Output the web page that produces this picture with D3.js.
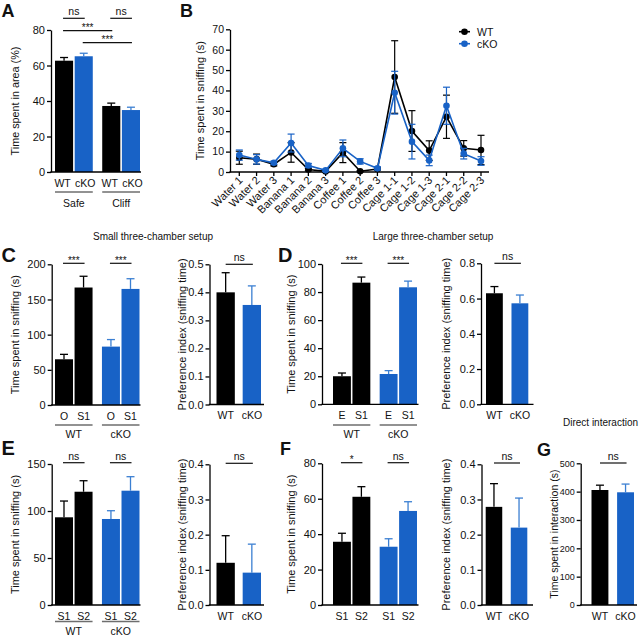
<!DOCTYPE html>
<html><head><meta charset="utf-8">
<script src="https://cdn.jsdelivr.net/npm/d3@7"></script>
<style>body{margin:0;background:#fff}svg{display:block;font-family:"Liberation Sans",Arial,sans-serif}</style>
</head><body>
<script>
// ---------------- DATA ----------------
const genotypes = ["WT", "cKO"];
// A
const aAreas = ["Safe", "Cliff"];
const aWT = [62.7, 37.2], aWTErr = [1.8, 1.6];
const aCKO = [65.2, 34.9], aCKOErr = [1.7, 1.6];
const aTicks = [0, 20, 40, 60, 80];
// B
const bCategories = ["Water 1","Water 2","Water 3","Banana 1","Banana 2","Banana 3","Coffee 1","Coffee 2","Coffee 3","Cage 1-1","Cage 1-2","Cage 1-3","Cage 2-1","Cage 2-2","Cage 2-3"];
const bWT    = [7.0, 6.3, 3.8, 9.6, 1.2, 0.3, 9.5, 0.4, 1.5, 46.6, 20.1, 10.5, 27.1, 11.6, 10.8];
const bWTErr = [3.2, 2.5, 0.8, 4.8, 0.6, 0.3, 4.9, 0.3, 0.5, 17.8, 10.0, 4.8, 10.6, 3.8, 7.2];
const bCKO   = [8.3, 6.2, 4.5, 14.2, 3.2, 0.8, 11.6, 5.2, 1.8, 38.9, 14.9, 5.7, 32.5, 9.0, 5.4];
const bCKOErr= [2.5, 2.3, 0.8, 4.4, 1.0, 0.5, 4.1, 1.3, 0.8, 10.5, 8.5, 2.6, 9.1, 2.6, 2.1];
const bTicks = [0, 10, 20, 30, 40, 50, 60, 70];
// C (small three-chamber)
const cStimuli = ["O", "S1"];
const cWT = [65, 167], cWTErr = [7, 16];
const cCKO = [83, 165], cCKOErr = [10, 14.5];
const cTicks = [0, 50, 100, 150, 200];
const cPref = [0.40, 0.355], cPrefErr = [0.07, 0.068];
const cPrefTicks = [0, 0.1, 0.2, 0.3, 0.4, 0.5];
// D (large three-chamber)
const dStimuli = ["E", "S1"];
const dWT = [20, 86.7], dWTErr = [2.3, 4];
const dCKO = [21.6, 83.4], dCKOErr = [2.4, 4.4];
const dTicks = [0, 20, 40, 60, 80, 100];
const dPref = [0.63, 0.573], dPrefErr = [0.038, 0.047];
const dPrefTicks = [0, 0.2, 0.4, 0.6, 0.8];
// E
const eStimuli = ["S1", "S2"];
const eWT = [93.3, 120.5], eWTErr = [17.3, 11.7];
const eCKO = [91.5, 121.6], eCKOErr = [8.8, 14.9];
const eTicks = [0, 50, 100, 150];
const ePref = [0.12, 0.092], ePrefErr = [0.077, 0.081];
const ePrefTicks = [0, 0.1, 0.2, 0.3, 0.4];
// F
const fStimuli = ["S1", "S2"];
const fWT = [35.7, 61.1], fWTErr = [4.8, 5.7];
const fCKO = [32.9, 53.1], fCKOErr = [4.5, 5.2];
const fTicks = [0, 20, 40, 60, 80];
const fPref = [0.279, 0.220], fPrefErr = [0.066, 0.084];
const fPrefTicks = [0, 0.1, 0.2, 0.3, 0.4];
// G
const gValues = [405.8, 397.7], gErr = [17, 29];
const gTicks = [0, 100, 200, 300, 400, 500];
// significance labels
const aSig = ["ns", "ns", "***", "***"];
const cSig = ["***", "***"], dSig = ["***", "***"];
const eSig = ["ns", "ns"], fSig = ["*", "ns"];
const prefSig = ["ns"];

// ---------------- STYLE ----------------
const BLACK = "#000", BLUE = "#1862c6", BLUE_ERR = "#3b7fd2", GREY = "#6e6e6e";
const colorOf = g => g === "WT" ? BLACK : BLUE;
const errColorOf = g => g === "WT" ? BLACK : BLUE_ERR;
const FONT = 11;
const XFONT = 10.5;

const svg = d3.select("body").append("svg").attr("width", 640).attr("height", 638);
svg.append("rect").attr("width", 640).attr("height", 638).attr("fill", "#fff");

function yAxis(scale, x, ticks, fmt, fs) {
  const g = svg.append("g").attr("transform", `translate(${x},0)`)
    .call(d3.axisLeft(scale).tickValues(ticks).tickFormat(fmt).tickSize(4).tickPadding(2).tickSizeOuter(0));
  g.select(".domain").attr("stroke", "#000").attr("stroke-width", 1.3);
  g.selectAll(".tick line").attr("stroke", "#000").attr("stroke-width", 1.3);
  g.selectAll(".tick text").style("font-size", (fs || FONT) + "px").attr("fill", "#111")
    .style("font-family", "Liberation Sans, Arial, sans-serif");
  return g;
}
function xLine(x0, x1, y) {
  svg.append("line").attr("x1", x0 - 0.65).attr("x2", x1).attr("y1", y).attr("y2", y)
    .attr("stroke", "#000").attr("stroke-width", 1.3);
}
function yTitle(text, x, yc, fs) {
  svg.append("text").attr("transform", `translate(${x},${yc}) rotate(-90)`)
    .attr("text-anchor", "middle").style("font-size", (fs || 11) + "px").attr("fill", "#111").text(text);
}
function label(text, x, y, fs, anchor, weight) {
  svg.append("text").attr("x", x).attr("y", y).attr("text-anchor", anchor || "middle")
    .style("font-size", fs + "px").style("font-weight", weight || "normal").attr("fill", "#111").text(text);
}
function errBar(cx, y, yv, yTop, color, cap) {
  svg.append("line").attr("x1", cx).attr("x2", cx).attr("y1", yv).attr("y2", yTop)
    .attr("stroke", color).attr("stroke-width", 1.3);
  svg.append("line").attr("x1", cx - cap / 2).attr("x2", cx + cap / 2).attr("y1", yTop).attr("y2", yTop)
    .attr("stroke", color).attr("stroke-width", 1.3);
}
function sigBar(x0, x1, y, text) {
  svg.append("line").attr("x1", x0).attr("x2", x1).attr("y1", y).attr("y2", y)
    .attr("stroke", "#111").attr("stroke-width", 1.2);
  const isStar = text.indexOf("*") >= 0;
  label(text, (x0 + x1) / 2, isStar ? y + 0.5 : y - 3, isStar ? 10 : 10.5);
}

// Grouped bar panel (two outer groups x two inner bars)
function groupedPanel(o) {
  const y = d3.scaleLinear().domain([0, d3.max(o.ticks)]).range([o.y0, o.y1]);
  const outer = d3.scaleBand().domain(o.outer).range(o.xr).paddingInner(0.2);
  const inner = d3.scaleBand().domain(o.inner).range([0, outer.bandwidth()]).paddingInner(0.08);
  const bars = [];
  o.outer.forEach((og, i) => o.inner.forEach((ig, j) => {
    const geno = o.colorBy === "inner" ? ig : og;
    const vals = o.values(og, ig);
    bars.push({ og, ig, geno, v: vals[0], e: vals[1], x: outer(og) + inner(ig), w: inner.bandwidth() });
  }));
  svg.append("g").selectAll("rect").data(bars).join("rect")
    .attr("x", d => d.x).attr("width", d => d.w)
    .attr("y", d => y(d.v)).attr("height", d => y(0) - y(d.v))
    .attr("fill", d => colorOf(d.geno));
  bars.forEach(d => errBar(d.x + d.w / 2, y, y(d.v), y(d.v + d.e), errColorOf(d.geno), 8));
  yAxis(y, o.ax, o.ticks, o.fmt || d3.format("d"));
  xLine(o.ax, o.xEnd, o.y0);
  bars.forEach(d => label(d.ig, d.x + d.w / 2 + (o.labelShift ? o.labelShift(d) : 0), o.y0 + 14.5, XFONT));
  if (o.groupLine) {
    o.outer.forEach(og => {
      svg.append("line").attr("x1", outer(og)).attr("x2", outer(og) + outer.bandwidth())
        .attr("y1", o.groupLine).attr("y2", o.groupLine).attr("stroke", GREY).attr("stroke-width", 1.6);
      label(og, outer(og) + outer.bandwidth() / 2, o.groupLabelY, XFONT);
    });
  }
  const cx = (og, ig) => outer(og) + inner(ig) + inner.bandwidth() / 2;
  o.sigs.forEach(s => sigBar(cx(s.a[0], s.a[1]) - 1, cx(s.b[0], s.b[1]) + 1, s.y, s.text));
  yTitle(o.title, o.titleX, (o.y0 + o.y1) / 2, o.titleSize);
}

// Two-bar panel (WT vs cKO)
function pairPanel(o) {
  const y = d3.scaleLinear().domain([0, d3.max(o.ticks)]).range([o.y0, o.y1]);
  const x = d3.scaleBand().domain(genotypes).range(o.xr).paddingInner(o.pad);
  const bars = genotypes.map((g, i) => ({ g, v: o.values[i], e: o.errs[i] }));
  svg.append("g").selectAll("rect").data(bars).join("rect")
    .attr("x", d => x(d.g)).attr("width", x.bandwidth())
    .attr("y", d => y(d.v)).attr("height", d => y(0) - y(d.v))
    .attr("fill", d => colorOf(d.g));
  bars.forEach(d => errBar(x(d.g) + x.bandwidth() / 2, y, y(d.v), y(d.v + d.e), errColorOf(d.g), 8));
  yAxis(y, o.ax, o.ticks, o.fmt, o.tickFont);
  xLine(o.ax, o.xEnd, o.y0);
  genotypes.forEach(g => label(g, x(g) + x.bandwidth() / 2, o.y0 + 14.5, XFONT));
  sigBar(x("WT") + x.bandwidth() / 2, x("cKO") + x.bandwidth() / 2 + 1, o.sigY, o.sig);
  yTitle(o.title, o.titleX, (o.y0 + o.y1) / 2, o.titleSize);
}

// ---------------- PANEL A ----------------
groupedPanel({
  outer: aAreas, inner: genotypes, colorBy: "inner",
  values: (og, ig) => { const i = aAreas.indexOf(og); return ig === "WT" ? [aWT[i], aWTErr[i]] : [aCKO[i], aCKOErr[i]]; },
  ticks: aTicks, y0: 172, y1: 30, xr: [55, 140], ax: 51, xEnd: 141,
  labelShift: d => d.ig === "WT" ? -1.5 : 1.5,
  groupLine: 192, groupLabelY: 207,
  sigs: [
    { a: ["Safe", "WT"], b: ["Safe", "cKO"], y: 18.3, text: aSig[0] },
    { a: ["Cliff", "WT"], b: ["Cliff", "cKO"], y: 18.3, text: aSig[1] },
    { a: ["Safe", "WT"], b: ["Cliff", "WT"], y: 30.7, text: aSig[2] },
    { a: ["Safe", "cKO"], b: ["Cliff", "cKO"], y: 42.7, text: aSig[3] }
  ],
  title: "Time spent in area (%)", titleX: 19, titleSize: 10.8
});

// ---------------- PANEL B ----------------
(function () {
  const x = d3.scalePoint().domain(bCategories).range([239.3, 481]);
  const y = d3.scaleLinear().domain([0, 70]).range([172, 29.3]);
  yAxis(y, 230, bTicks, d3.format("d"), 10.5);
  xLine(230, 489, 172);
  bCategories.forEach(c => {
    svg.append("line").attr("x1", x(c)).attr("x2", x(c)).attr("y1", 172).attr("y2", 176)
      .attr("stroke", "#000").attr("stroke-width", 1.3);
    svg.append("text").attr("transform", `translate(${x(c) + 4},${181}) rotate(-45)`)
      .attr("text-anchor", "end").style("font-size", "11px").attr("fill", "#111").text(c);
  });
  const series = [
    { g: "WT", v: bWT, e: bWTErr },
    { g: "cKO", v: bCKO, e: bCKOErr }
  ];
  series.forEach(s => {
    const col = colorOf(s.g);
    s.v.forEach((v, i) => {
      const cx = x(bCategories[i]);
      svg.append("line").attr("x1", cx).attr("x2", cx).attr("y1", y(v - s.e[i])).attr("y2", y(v + s.e[i]))
        .attr("stroke", col).attr("stroke-width", 1.2);
      [v - s.e[i], v + s.e[i]].forEach(t => svg.append("line").attr("x1", cx - 3.5).attr("x2", cx + 3.5)
        .attr("y1", y(t)).attr("y2", y(t)).attr("stroke", col).attr("stroke-width", 1.2));
    });
    svg.append("path").datum(s.v)
      .attr("d", d3.line().x((d, i) => x(bCategories[i])).y(d => y(d)))
      .attr("fill", "none").attr("stroke", col).attr("stroke-width", 1.6);
    svg.append("g").selectAll("circle").data(s.v).join("circle")
      .attr("cx", (d, i) => x(bCategories[i])).attr("cy", d => y(d)).attr("r", 3.3).attr("fill", col);
  });
  // legend
  genotypes.forEach((g, i) => {
    const ly = 31.7 + i * 12;
    svg.append("line").attr("x1", 459).attr("x2", 470).attr("y1", ly).attr("y2", ly)
      .attr("stroke", colorOf(g)).attr("stroke-width", 1.6);
    svg.append("circle").attr("cx", 464.5).attr("cy", ly).attr("r", 3.3).attr("fill", colorOf(g));
    label(g, 477, ly + 3.8, 10.5, "start");
  });
  yTitle("Time spent in sniffing (s)", 204, 100.7, 11);
})();

// ---------------- PANEL C ----------------
label("Small three-chamber setup", 153, 239.5, 10);
groupedPanel({
  outer: genotypes, inner: cStimuli, colorBy: "outer",
  values: (og, ig) => { const i = cStimuli.indexOf(ig); return og === "WT" ? [cWT[i], cWTErr[i]] : [cCKO[i], cCKOErr[i]]; },
  ticks: cTicks, y0: 405, y1: 264.3, xr: [55, 139.5], ax: 51.7, xEnd: 140.5,
  groupLine: 425, groupLabelY: 437.5,
  sigs: [
    { a: ["WT", "O"], b: ["WT", "S1"], y: 263.3, text: cSig[0] },
    { a: ["cKO", "O"], b: ["cKO", "S1"], y: 263.3, text: cSig[1] }
  ],
  title: "Time spent in sniffing (s)", titleX: 19
});
pairPanel({
  values: cPref, errs: cPrefErr, ticks: cPrefTicks, fmt: d3.format(".1f"),
  y0: 404.5, y1: 264.3, xr: [216.5, 261], pad: 0.3, ax: 209.5, xEnd: 264,
  sigY: 264.3, sig: prefSig[0], title: "Preference index (sniffing time)", titleX: 185.5
});

// ---------------- PANEL D ----------------
label("Large three-chamber setup", 433, 239.5, 10);
groupedPanel({
  outer: genotypes, inner: dStimuli, colorBy: "outer",
  values: (og, ig) => { const i = dStimuli.indexOf(ig); return og === "WT" ? [dWT[i], dWTErr[i]] : [dCKO[i], dCKOErr[i]]; },
  ticks: dTicks, y0: 404.3, y1: 264, xr: [333, 417], ax: 322, xEnd: 418.5,
  groupLine: 425, groupLabelY: 437.5,
  sigs: [
    { a: ["WT", "E"], b: ["WT", "S1"], y: 263.3, text: dSig[0] },
    { a: ["cKO", "E"], b: ["cKO", "S1"], y: 263.3, text: dSig[1] }
  ],
  title: "Time spent in sniffing (s)", titleX: 295
});
pairPanel({
  values: dPref, errs: dPrefErr, ticks: dPrefTicks, fmt: d3.format(".1f"),
  y0: 404.3, y1: 263.3, xr: [486, 528.3], pad: 0.34, ax: 481, xEnd: 533.5,
  sigY: 263.3, sig: prefSig[0], title: "Preference index (sniffing time)", titleX: 449.5
});

// ---------------- PANEL E ----------------
groupedPanel({
  outer: genotypes, inner: eStimuli, colorBy: "outer",
  values: (og, ig) => { const i = eStimuli.indexOf(ig); return og === "WT" ? [eWT[i], eWTErr[i]] : [eCKO[i], eCKOErr[i]]; },
  ticks: eTicks, y0: 605, y1: 464, xr: [55, 139.5], ax: 51.7, xEnd: 140.5,
  groupLine: 621.5, groupLabelY: 635,
  sigs: [
    { a: ["WT", "S1"], b: ["WT", "S2"], y: 462.7, text: eSig[0] },
    { a: ["cKO", "S1"], b: ["cKO", "S2"], y: 462.7, text: eSig[1] }
  ],
  title: "Time spent in sniffing (s)", titleX: 19
});
pairPanel({
  values: ePref, errs: ePrefErr, ticks: ePrefTicks, fmt: d3.format(".1f"),
  y0: 605, y1: 464.3, xr: [216.5, 261], pad: 0.3, ax: 209.5, xEnd: 264,
  sigY: 463.3, sig: prefSig[0], title: "Preference index (sniffing time)", titleX: 185.5
});

// ---------------- PANEL F ----------------
groupedPanel({
  outer: genotypes, inner: fStimuli, colorBy: "outer",
  values: (og, ig) => { const i = fStimuli.indexOf(ig); return og === "WT" ? [fWT[i], fWTErr[i]] : [fCKO[i], fCKOErr[i]]; },
  ticks: fTicks, y0: 605, y1: 463.3, xr: [333, 417], ax: 322, xEnd: 418.5,
  groupLine: null,
  sigs: [
    { a: ["WT", "S1"], b: ["WT", "S2"], y: 462.7, text: fSig[0] },
    { a: ["cKO", "S1"], b: ["cKO", "S2"], y: 462.7, text: fSig[1] }
  ],
  title: "Time spent in sniffing (s)", titleX: 295
});
pairPanel({
  values: fPref, errs: fPrefErr, ticks: fPrefTicks, fmt: d3.format(".1f"),
  y0: 605, y1: 464.3, xr: [485.7, 527.3], pad: 0.34, ax: 481.5, xEnd: 533,
  sigY: 463, sig: prefSig[0], title: "Preference index (sniffing time)", titleX: 449.5
});

// ---------------- PANEL G ----------------
label("Direct interaction", 600.5, 426, 10);
pairPanel({
  values: gValues, errs: gErr, ticks: gTicks, fmt: d3.format("d"), tickFont: 9,
  y0: 605, y1: 463.3, xr: [591.5, 634], pad: 0.34, ax: 580.7, xEnd: 637,
  sigY: 463, sig: prefSig[0], title: "Time spent in interaction (s)", titleX: 557.5, titleSize: 10.5
});

// ---------------- PANEL LETTERS ----------------
const letters = [["A", 1.5, 17, 18], ["B", 180, 16.5, 18], ["C", 1.5, 261.5, 20], ["D", 278, 261.5, 20],
                 ["E", 1.5, 454.5, 20], ["F", 280, 455, 18], ["G", 537, 456, 18]];
letters.forEach(l => label(l[0], l[1], l[2], l[3], "start", "bold"));
</script>
</body></html>
